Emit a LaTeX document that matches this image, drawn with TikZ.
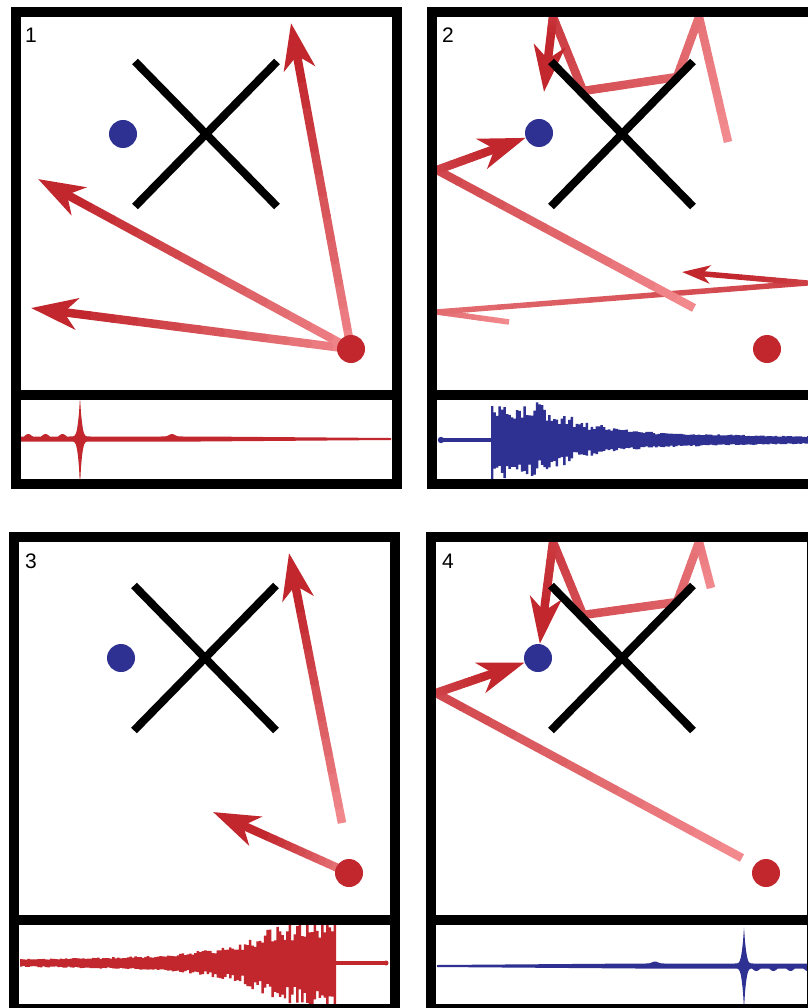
\documentclass[tikz,border=0pt]{standalone}
\usepackage{fontspec}
\usepackage{tikz}
\usetikzlibrary{calc,arrows.meta,shapes.misc}
\pgfdeclarelayer{background}
\pgfsetlayers{background,main}
\usepackage{xcolor}
\definecolor{raydark}{RGB}{193,39,45}
\definecolor{raylight}{RGB}{243,140,144}
\definecolor{sourcered}{RGB}{193,39,45}
\definecolor{listenerblue}{RGB}{46,49,146}
\newfontfamily\tagfont{Liberation Sans}

% one straight leg of a ray, shaded from #4 (light) to #5 (dark)
\newcommand{\rayseg}[5][]{%
  \foreach \k in {1,...,12}{%
    \pgfmathsetmacro{\ta}{(\k-1)/12}%
    \pgfmathsetmacro{\tb}{\k/12}%
    \pgfmathsetmacro{\mixpct}{#4+(#5-#4)*(\k-0.5)/12}%
    \ifnum\k=1\relax\def\capkind{butt}\else\def\capkind{round}\fi
    \draw[ray,#1,line cap=\capkind,draw=raydark!\mixpct!raylight]
      ($(#2)!\ta!(#3)$) -- ($(#2)!\tb!(#3)$);%
  }}
% last leg of a ray, ending in a head (#5)
\newcommand{\raytip}[5][]{%
  \coordinate (cut) at ($(#3)!60pt!(#2)$);%
  \rayseg[#1]{#2}{cut}{#4}{96}%
  \draw[ray,#1,#5,draw=raydark] (cut) -- (#3);}

\begin{document}
\begin{tikzpicture}[x=1pt, y=-1pt,
  panelframe/.style={draw=black, line width=10pt},
  source/.style={circle, fill=sourcered, minimum size=28pt, inner sep=0pt},
  listener/.style={circle, fill=listenerblue, minimum size=28pt, inner sep=0pt},
  obstacle/.style={cross out, draw=black, line width=8pt,
    minimum width=134pt, minimum height=137pt, inner sep=0pt},
  paneltag/.style={font=\tagfont\fontsize{21}{21}\selectfont, inner sep=0pt},
  ray/.style={line width=8.5pt},
  thinray/.style={line width=5.5pt},
  bighead/.style={-{Stealth[length=46pt,width=31pt,inset=13pt]}},
  smallhead/.style={-{Stealth[length=28pt,width=18pt,inset=8pt]}},
  wavered/.style={fill=sourcered},
  waveblue/.style={fill=listenerblue},
]
\useasboundingbox (0,0) rectangle (807,1008);

% ── PANEL 1 ── direct paths (top left)
\node[paneltag] at ( 31, 35) (tag1) {1};
\node[obstacle] at (206,134) (obs1) {};
\node[listener] at (123,134) (rcv1) {};
\node[source]   at (351,349) (src1) {};
\coordinate (p1a) at (291, 23);
\coordinate (p1b) at ( 38,179);
\coordinate (p1c) at ( 31,308);

% ── PANEL 2 ── reflected paths (top right)
\node[paneltag] at (448, 35) (tag2) {2};
\node[obstacle] at (622,134) (obs2) {};
\node[listener] at (539,133) (rcv2) {};
\node[source]   at (767,349) (src2) {};
\coordinate (s2a) at (509,322);
\coordinate (w2a) at (437,312);
\coordinate (e2a) at (807,283);
\coordinate (p2a) at (682,272);
\coordinate (s2b) at (694,308);
\coordinate (w2b) at (437,170);
\coordinate (s2c) at (728,142);
\coordinate (c2a) at (699, 17);
\coordinate (c2b) at (677, 77);
\coordinate (c2c) at (583, 91);
\coordinate (c2d) at (553, 17);
\coordinate (p2c) at (544, 92);

% ── PANEL 3 ── (bottom left)
\node[paneltag] at ( 31,561) (tag3) {3};
\node[obstacle] at (205,658) (obs3) {};
\node[listener] at (121,658) (rcv3) {};
\node[source]   at (349,873) (src3) {};
\coordinate (s3a) at (342,823);
\coordinate (p3a) at (289,553);
\coordinate (p3b) at (213,812);

% ── PANEL 4 ── (bottom right)
\node[paneltag] at (448,561) (tag4) {4};
\node[obstacle] at (622,658) (obs4) {};
\node[listener] at (538,658) (rcv4) {};
\node[source]   at (766,873) (src4) {};
\coordinate (s4a) at (742,858);
\coordinate (w4a) at (436,693);
\coordinate (s4b) at (711,588);
\coordinate (c4a) at (699,542);
\coordinate (c4b) at (677,602);
\coordinate (c4c) at (583,615);
\coordinate (c4d) at (553,542);

%% ══════════════════ RAYS ══════════════════
\begin{pgfonlayer}{background}
\fill[white] (0,0) rectangle (807,1008);

% Panel 1
\raytip{src1}{p1a}{5}{bighead}
\raytip{src1}{p1b}{5}{bighead}
\raytip{src1}{p1c}{5}{bighead}

% Panel 2 — low bounce, left wall, right wall
\rayseg[thinray]{s2a}{w2a}{0}{30}
\rayseg[thinray]{w2a}{e2a}{30}{75}
\raytip[thinray]{e2a}{p2a}{75}{smallhead}

% Panel 2 — left wall → listener
\rayseg{s2b}{w2b}{0}{70}
\raytip{w2b}{rcv2}{70}{bighead}

% Panel 2 — ceiling zigzag
\rayseg{s2c}{c2a}{0}{25}
\rayseg{c2a}{c2b}{25}{40}
\rayseg{c2b}{c2c}{40}{60}
\rayseg{c2c}{c2d}{60}{80}
\raytip{c2d}{p2c}{80}{bighead}

% Panel 3
\raytip{s3a}{p3a}{0}{bighead}
\raytip{src3}{p3b}{10}{bighead}

% Panel 4 — left wall → listener
\rayseg{s4a}{w4a}{0}{70}
\raytip{w4a}{rcv4}{70}{bighead}

% Panel 4 — ceiling zigzag → listener
\rayseg{s4b}{c4a}{0}{20}
\rayseg{c4a}{c4b}{20}{40}
\rayseg{c4b}{c4c}{40}{60}
\rayseg{c4c}{c4d}{60}{80}
\raytip{c4d}{rcv4}{80}{bighead}

\end{pgfonlayer}

%% ══════════════════ WAVEFORMS ══════════════════
\pgfmathsetseed{11}

% Panel 1 — click
\fill[wavered] plot[domain=21:391, samples=371]
  (\x, {439-(2.5-1.5*max(0,(\x-200)/190)+(\x<75)*2.5*max(0,sin((\x-24)*21))
   +2.5*exp(-min(20,((\x-172)/4)^2))+14*exp(-min(20,((\x-80)/3)^2))
   +25*exp(-min(20,abs(\x-80)/1.2)))})
  -- plot[domain=391:21, samples=371]
  (\x, {439+(2.5-1.5*max(0,(\x-200)/190)
   +14*exp(-min(20,((\x-80)/3)^2))+30*exp(-min(20,abs(\x-80)/1.2)))})
  -- cycle;

% Panel 2 — decaying noise
\fill[waveblue] (441,440) circle (3.2);
\fill[waveblue] (441,438) rectangle (492,442);
\fill[waveblue] plot[const plot, domain=491:812, samples=130]
  (\x, {440-(4*(0.7+0.3*rnd)+0.012*(812-\x)+33*exp(-max(0,\x-540)/45)*(0.4+0.6*rnd))})
  -- plot[const plot, domain=812:491, samples=130]
  (\x, {440+(4*(0.7+0.3*rnd)+0.012*(812-\x)+33*exp(-max(0,\x-540)/45)*(0.4+0.6*rnd))})
  -- cycle;

% Panel 3 — growing noise
\fill[wavered] plot[const plot, domain=20:336, samples=128]
  (\x, {963-(4*(0.7+0.3*rnd)+0.012*(\x-20)+37*exp(-max(0,280-\x)/45)*(0.4+0.6*rnd))})
  -- plot[const plot, domain=336:20, samples=128]
  (\x, {963+(4*(0.7+0.3*rnd)+0.012*(\x-20)+37*exp(-max(0,280-\x)/45)*(0.4+0.6*rnd))})
  -- cycle;
\fill[wavered] (335,961) rectangle (386,965);
\fill[wavered] (386,963) circle (2.5);

% Panel 4 — late click
\fill[waveblue] plot[domain=437:812, samples=376]
  (\x, {966-(1+1.5*min(1,(\x-437)/200)+2*exp(-min(20,((\x-655)/4)^2))
   +14*exp(-min(20,((\x-744)/3)^2))+22*exp(-min(20,abs(\x-744)/1.2)))})
  -- plot[domain=812:437, samples=376]
  (\x, {966+(1+1.5*min(1,(\x-437)/200)+(\x>750)*2.5*max(0,sin((\x-752)*21))
   +14*exp(-min(20,((\x-744)/3)^2))+26*exp(-min(20,abs(\x-744)/1.2)))})
  -- cycle;

%% ══════════════════ FRAMES ══════════════════
\draw[panelframe] ( 16, 12) rectangle (396.5,484);
\draw[panelframe] ( 16,394.5) -- (396.5,394.5);
\draw[panelframe] (432, 12) rectangle (812.5,484);
\draw[panelframe] (432,394.5) -- (812.5,394.5);
\draw[panelframe] ( 14,537) rectangle (394.5,1009);
\draw[panelframe] ( 14,919.5) -- (394.5,919.5);
\draw[panelframe] (431,537) rectangle (811.5,1009);
\draw[panelframe] (431,919.5) -- (811.5,919.5);

\end{tikzpicture}
\end{document}
